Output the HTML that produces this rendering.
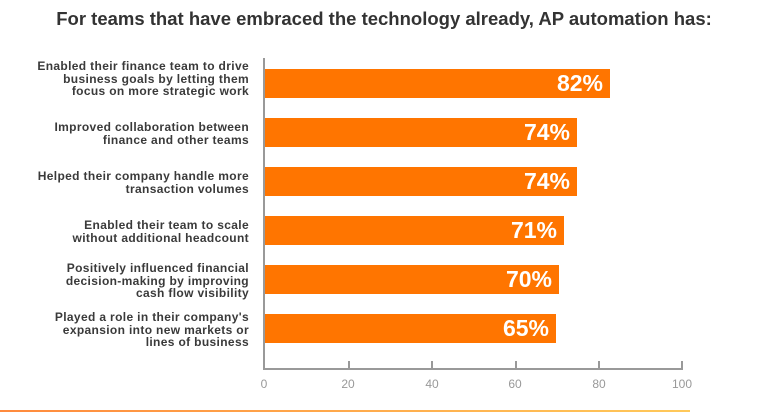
<!DOCTYPE html>
<html><head><meta charset="utf-8"><style>
body{margin:0;width:768px;height:414px;background:#fff;position:relative;overflow:hidden;font-family:"Liberation Sans",sans-serif}
.t{position:absolute;top:8px;left:0;width:768px;text-align:center;font-weight:bold;font-size:18.5px;color:#333}
.l{position:absolute;right:519px;text-align:right;font-weight:bold;font-size:12px;letter-spacing:0.35px;line-height:12.5px;color:#3a3a3a;white-space:nowrap}
.b{position:absolute;left:265px;height:29px;background:#ff7500}
.b span{position:absolute;right:7px;top:2px;color:#fff;font-weight:bold;font-size:23px;line-height:25px}
.tk{position:absolute;top:361px;width:1.5px;height:8px;background:#999}
.tl{position:absolute;top:377px;width:40px;text-align:center;font-size:12px;color:#999}
</style></head><body>
<div class="t">For teams that have embraced the technology already, AP automation has:</div>
<div style="position:absolute;left:263px;top:58px;width:1.5px;height:312px;background:#999"></div>
<div style="position:absolute;left:263px;top:368px;width:420px;height:1.5px;background:#999"></div>
<div class="l" style="top:60px">Enabled their finance team to drive<br>business goals by letting them<br>focus on more strategic work</div>
<div class="l" style="top:121px">Improved collaboration between<br>finance and other teams</div>
<div class="l" style="top:170px">Helped their company handle more<br>transaction volumes</div>
<div class="l" style="top:219px">Enabled their team to scale<br>without additional headcount</div>
<div class="l" style="top:262px">Positively influenced financial<br>decision-making by improving<br>cash flow visibility</div>
<div class="l" style="top:311px">Played a role in their company's<br>expansion into new markets or<br>lines of business</div>
<div class="b" style="top:69px;width:345px"><span>82%</span></div>
<div class="b" style="top:118px;width:312px"><span>74%</span></div>
<div class="b" style="top:167px;width:312px"><span>74%</span></div>
<div class="b" style="top:216px;width:299px"><span>71%</span></div>
<div class="b" style="top:265px;width:294px"><span>70%</span></div>
<div class="b" style="top:314px;width:291px"><span>65%</span></div>
<div class="tk" style="left:348px"></div><div class="tk" style="left:431px"></div><div class="tk" style="left:515px"></div><div class="tk" style="left:598px"></div><div class="tk" style="left:681px"></div>
<div class="tl" style="left:244px">0</div><div class="tl" style="left:328px">20</div><div class="tl" style="left:412px">40</div><div class="tl" style="left:495px">60</div><div class="tl" style="left:579px">80</div><div class="tl" style="left:662px">100</div>
<div style="position:absolute;left:0;top:410px;width:690px;height:2px;background:linear-gradient(90deg,#ff8a3d,#ffc95a)"></div>
</body></html>
